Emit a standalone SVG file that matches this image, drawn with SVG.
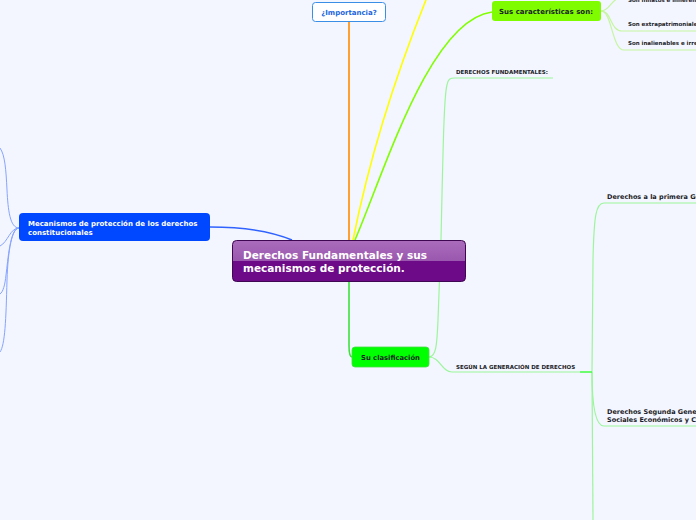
<svg xmlns="http://www.w3.org/2000/svg" width="696" height="520" viewBox="0 0 696 520">
<defs>
<linearGradient id="cg" x1="0" y1="0" x2="0" y2="1">
<stop offset="0" stop-color="#ab6cbc"/>
<stop offset="0.5" stop-color="#9a58ae"/>
<stop offset="0.5" stop-color="#6c0a88"/>
<stop offset="1" stop-color="#6c0a88"/>
</linearGradient>
<style>
.t{font-family:"DejaVu Sans","Liberation Sans",sans-serif;font-weight:bold}
.lab{fill:#1c1c28}
.c{fill:none}
</style>
</defs>
<rect width="696" height="520" fill="#f3f6fe"/>
<g id="connectors" class="c">
<path d="M349,21 L349,240" stroke="#ffa030" stroke-width="2"/>
<path d="M353,240 C365,180 385,100 430,-10" stroke="#ffff00" stroke-width="1.6"/>
<path d="M355,240 C385,170 430,20 492,12" stroke="#80ff00" stroke-width="1.6"/>
<path d="M210,227 C245,227 270,231 292,240" stroke="#2f62ff" stroke-width="1.4"/>
<g stroke="#86a4ff" stroke-width="1">
<path d="M19,228 C10,228 8,210 7,190 C6,170 5,155 0,148"/>
<path d="M19,228 C10,228 8,242 0,246"/>
<path d="M19,228 C10,228 8,260 6,275 C5,285 3,292 0,294"/>
<path d="M19,228 C12,228 8,250 7,280 C6,320 5,345 0,352"/>
</g>
<g stroke="#c6f5a2" stroke-width="1.2">
<path d="M601,11 C610,11 612,-2 620,-2 L696,-2"/>
<path d="M601,11 C612,11 610,31 622,31 L696,31"/>
<path d="M601,11 C612,11 612,50 624,50 L696,50"/>
</g>
<path d="M349,282 L349,345 C349,352 350,357 352,357" stroke="#3ee03e" stroke-width="1.6"/>
<g stroke="#9cf59c" stroke-width="1.2">
<path d="M429,357 C436,357 437,345 438,320 L441,240 C443,150 444,95 447,85 C448,79 450,78 455,78 L553,78"/>
<path d="M429,357 C440,357 442,372 452,372 L580,372"/>
<path d="M592,372 L593,260 C594,215 596,203 604,203 L696,203"/>
<path d="M592,372 C592,400 594,426 604,426 L696,426"/>
<path d="M592,372 L593,520"/>
</g>
<path d="M580,372 L592,372" stroke="#33ff33" stroke-width="1.4"/>
</g>
<g id="center">
<rect x="232.5" y="240.5" width="233" height="41" rx="4" fill="url(#cg)" stroke="#3f0752" stroke-width="1"/>
<text class="t" x="243" y="259" font-size="10.5" fill="#ffffff">Derechos Fundamentales y sus</text>
<text class="t" x="243" y="272" font-size="10.5" fill="#ffffff">mecanismos de protección.</text>
</g>
<g id="importancia">
<rect x="312.5" y="2.5" width="73" height="19" rx="3" fill="#ffffff" stroke="#3a8ee6" stroke-width="1"/>
<text class="t" x="349" y="15" font-size="7" fill="#1a66dd" text-anchor="middle">¿Importancia?</text>
</g>
<g id="caracteristicas">
<rect x="492" y="1" width="109" height="20" rx="3" fill="#7ffc00"/>
<text class="t lab" x="546" y="14" font-size="7" text-anchor="middle">Sus características son:</text>
</g>
<g id="car1"><text class="t lab" x="628" y="2" font-size="5.5">Son innatos e inherentes</text></g>
<g id="car2"><text class="t lab" x="628" y="25.5" font-size="5.5">Son extrapatrimoniales</text></g>
<g id="car3"><text class="t lab" x="628" y="45" font-size="5.5">Son inalienables e irrenunciables</text></g>
<g id="mecanismos">
<rect x="19" y="213" width="191" height="28" rx="4" fill="#0048ff"/>
<text class="t" x="28" y="226" font-size="7" fill="#ffffff">Mecanismos de protección de los derechos</text>
<text class="t" x="28" y="235" font-size="7" fill="#ffffff">constitucionales</text>
</g>
<g id="clasificacion">
<rect x="352" y="347" width="77" height="20" rx="3" fill="#00ff00" stroke="#44dd44" stroke-width="0.8"/>
<text class="t lab" x="390.5" y="360" font-size="6.8" text-anchor="middle">Su clasificación</text>
</g>
<g id="derechos-fundamentales"><text class="t lab" x="456" y="74" font-size="5.5">DERECHOS FUNDAMENTALES:</text></g>
<g id="segun"><text class="t lab" x="456" y="368.5" font-size="5.5">SEGÚN LA GENERACIÓN DE DERECHOS</text></g>
<g id="primera"><text class="t lab" x="607" y="198.5" font-size="6.5">Derechos a la primera Generación</text></g>
<g id="segunda">
<text class="t lab" x="607" y="413.5" font-size="6.5">Derechos Segunda Generación</text>
<text class="t lab" x="607" y="421.5" font-size="6.5">Sociales Económicos y Culturales</text>
</g>
</svg>
